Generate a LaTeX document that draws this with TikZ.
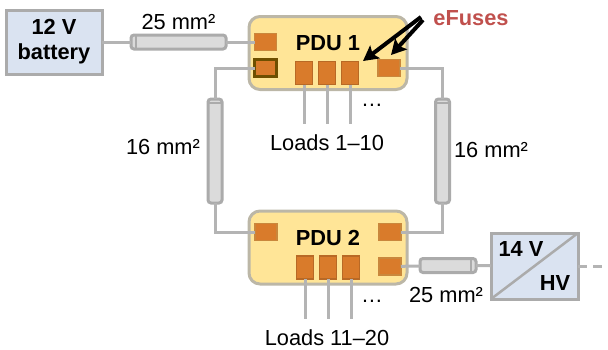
\documentclass[tikz,border=0pt]{standalone}
\usepackage{fontspec}
\setmainfont{Liberation Sans}
\usetikzlibrary{positioning,arrows.meta}
\definecolor{edgegray}{HTML}{ABABAB}
\definecolor{wiregray}{HTML}{B4B4B4}
\definecolor{battblue}{HTML}{DAE3F1}
\definecolor{pduyellow}{HTML}{FFE597}
\definecolor{fuseorange}{HTML}{D97B2B}
\definecolor{fuseedge}{HTML}{C9873C}
\definecolor{fusedark}{HTML}{6E4F00}
\definecolor{cablegray}{HTML}{DBDBDB}
\definecolor{labelred}{HTML}{C0504D}

\begin{document}
\begin{tikzpicture}
[x=1pt,y=-1pt,
 every node/.style={inner sep=0pt,outer sep=0pt,font=\fontsize{21.8}{24}\selectfont},
 unitbox/.style={draw=edgegray,line width=3pt,fill=battblue,minimum width=96pt,minimum height=64pt,font=\fontsize{21.8}{25}\selectfont\bfseries,align=center},
 pdubox/.style={draw=edgegray!80!pduyellow,line width=3pt,fill=pduyellow,rounded corners=11pt,minimum width=158pt,minimum height=73pt},
 fuse/.style={draw=fuseedge,line width=1.5pt,fill=fuseorange,minimum width=22pt,minimum height=17pt},
 fuseload/.style={fuse,draw=fuseorange!85!black,minimum width=17pt,minimum height=23pt},
 fusekey/.style={fuse,draw=fusedark,line width=2.5pt},
 cable/.style={draw=edgegray,line width=3pt,fill=cablegray,rounded corners=3pt},
 cableH/.style={cable,minimum width=95pt,minimum height=14pt},
 cableV/.style={cable,minimum width=14pt,minimum height=104pt},
 capband/.style={draw=edgegray,line width=2pt},
 wire/.style={draw=wiregray,line width=3pt},
 pointer/.style={draw=black,line width=4pt,-{Stealth[length=15pt,width=16pt,inset=3pt]},shorten >=0pt}]
\useasboundingbox (0,0) rectangle (608,349);
\node[unitbox]  (batt)  at (54,42)                               {12 V\\battery};
\node[pdubox]   (pduA)  at (328,53)                              {};
\node[pdubox]   (pduB)  [on grid,below=194.5pt of pduA]          {};
\node[font=\fontsize{21.8}{24}\selectfont\bfseries] (pduAtxt) [on grid,above=10pt of pduA]  {PDU 1};
\node[font=\fontsize{21.8}{24}\selectfont\bfseries] (pduBtxt) [on grid,below=195pt of pduAtxt] {PDU 2};
\node[fuse]     (fA)    at (265.5,42)                            {};
\node[fusekey]  (fB)    [on grid,below=26pt of fA]               {};
\node[fuseload] (lA)    at (304,73)                              {};
\node[fuseload] (lB)    [on grid,right=23pt of lA]               {};
\node[fuseload] (lC)    [on grid,right=23pt of lB]               {};
\node[fuse]     (fC)    at (389,68)                              {};
\node[fuse]     (gA)    at (266,232)                             {};
\node[fuse]     (gB)    [on grid,right=124pt of gA]              {};
\node[fuse]     (gC)    [on grid,below=34.5pt of gB]             {};
\node[fuseload] (mA)    at (305,267.5)                           {};
\node[fuseload] (mB)    [on grid,right=23pt of mA]               {};
\node[fuseload] (mC)    [on grid,right=23pt of mB]               {};
\node[cableH] (cabA) [on grid,right=124.5pt of batt] {};
\node[cableV] (cabL) at (215,151)                    {};
\node[cableV] (cabR) at (442.5,151)                  {};
\node[cableH,minimum width=56pt] (cabB) at (448,265.5) {};
\node[unitbox,minimum width=87pt,minimum height=66pt]    (conv) at (534.5,266)                  {};
\node (battV) at (521,249) {\bfseries 14 V};
\node (convHV) at (555,283) {\bfseries HV};
\node (lblA) [on grid,above=20pt of cabA] {25 mm²};
\node (lblL) at (163,147)  {16 mm²};
\node (lblR) at (491,150)  {16 mm²};
\node (lblB) at (446,295)  {25 mm²};
\node (loadA) at (327,143) {Loads 1–10};
\node (loadB) at (327,338) {Loads 11–20};
\node (dotsA) at (372,105) {…};
\node (dotsB) at (372,301) {…};
\node[text=labelred,font=\fontsize{21.8}{24}\selectfont\bfseries] (efuse) at (471,18) {eFuses};
\coordinate (endA) at (304,124);
\coordinate (endB) at (327,124);
\coordinate (endC) at (350,124);
\coordinate (endD) at (305,319);
\coordinate (endE) at (328,319);
\coordinate (endF) at (351,319);
\coordinate (endHV) at (608,266);
\coordinate (srcA) at (421,17);
\coordinate (srcB) at (423,20);
\coordinate (tipA) at (363,61);
\coordinate (tipB) at (391,55);
\path[wire] (batt)  edge (cabA);
\path[wire] (cabA)  edge (fA);
\draw[wire] (fB.west) -| (cabL.north);
\draw[wire] (fC.east) -| (cabR.north);
\draw[wire] (gA.west) -| (cabL.south);
\draw[wire] (gB.east) -| (cabR.south);
\path[wire] (gC)    edge (cabB);
\path[wire] (cabB)  edge (conv);
\path[wire] (lA.south) edge (endA);
\path[wire] (lB.south) edge (endB);
\path[wire] (lC.south) edge (endC);
\path[wire] (mA.south) edge (endD);
\path[wire] (mB.south) edge (endE);
\path[wire] (mC.south) edge (endF);
\draw[wire,dashed,dash pattern=on 9pt off 6pt] (conv.east) -- (endHV);
\draw[capband] ([xshift=5pt]cabA.north west) -- ([xshift=5pt]cabA.south west);
\draw[capband] ([xshift=-5pt]cabB.north east) -- ([xshift=-5pt]cabB.south east);
\draw[capband] ([yshift=-4pt]cabL.north west) -- ([yshift=-4pt]cabL.north east);
\draw[capband] ([yshift=-4pt]cabR.north west) -- ([yshift=-4pt]cabR.north east);
\draw[draw=edgegray,line width=2.5pt] (conv.south west) -- (conv.north east);
\draw[pointer] (srcA) -- (tipA);
\draw[pointer] (srcB) -- (tipB);
\end{tikzpicture}
\end{document}
